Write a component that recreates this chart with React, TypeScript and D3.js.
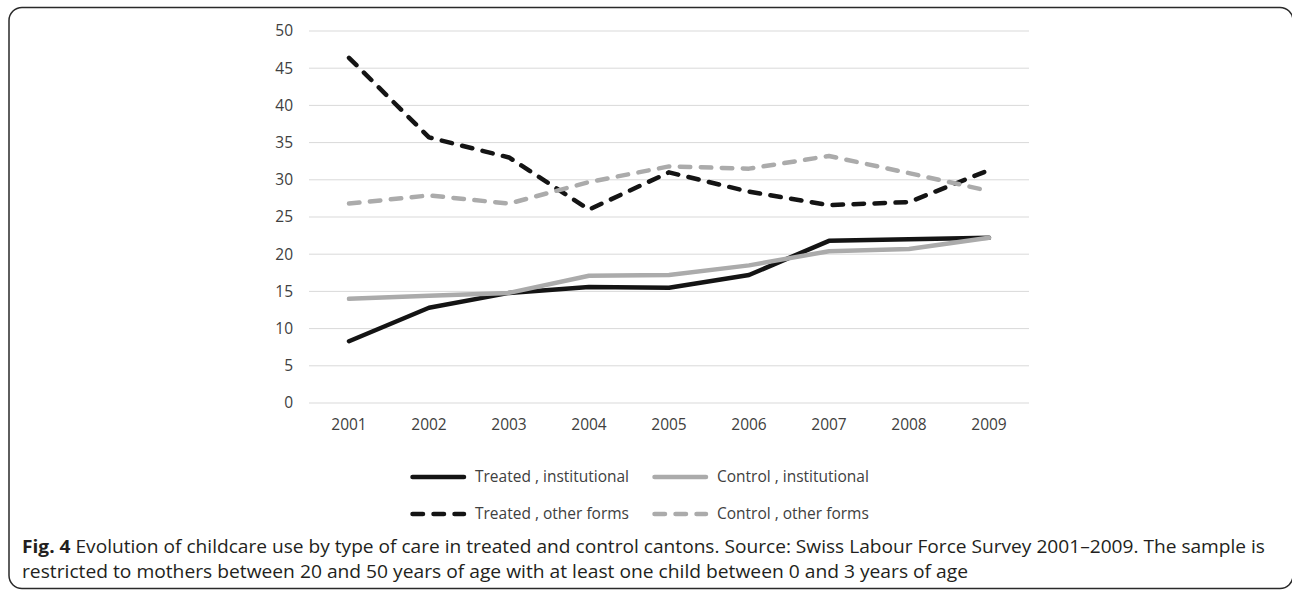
import React from "react";
import * as d3 from "d3";

const years = ["2001", "2002", "2003", "2004", "2005", "2006", "2007", "2008", "2009"];
const treatedInstitutional = [8.3, 12.8, 14.8, 15.6, 15.5, 17.2, 21.8, 22.0, 22.2];
const controlInstitutional = [14.0, 14.4, 14.8, 17.1, 17.2, 18.5, 20.4, 20.7, 22.2];
const treatedOther = [46.4, 35.7, 33.0, 26.0, 31.0, 28.4, 26.6, 27.0, 31.3];
const controlOther = [26.8, 27.9, 26.8, 29.7, 31.8, 31.5, 33.2, 30.9, 28.5];
const yTicks = [0, 5, 10, 15, 20, 25, 30, 35, 40, 45, 50];
const seriesNames = ["Treated , institutional", "Control , institutional", "Treated , other forms", "Control , other forms"];
const captionBold = "Fig. 4";
const captionLine1 = " Evolution of childcare use by type of care in treated and control cantons. Source: Swiss Labour Force Survey 2001\u20132009. The sample is";
const captionLine2 = "restricted to mothers between 20 and 50 years of age with at least one child between 0 and 3 years of age";

const BLACK = "#141414";
const GRAY = "#ababab";

export default function App() {
  const W = 1292, H = 590;
  const x = d3.scaleBand().domain(years).range([309, 1029]);
  const y = d3.scaleLinear().domain([0, 50]).range([403, 31]);
  const line = d3.line<number>()
    .x((_, i) => (x(years[i]) as number) + x.bandwidth() / 2)
    .y((d) => y(d));

  const DASH = "10.5,10.5";
  const series = [
    { data: treatedInstitutional, color: BLACK, dash: null },
    { data: controlInstitutional, color: GRAY, dash: null },
    { data: treatedOther, color: BLACK, dash: DASH },
    { data: controlOther, color: GRAY, dash: DASH },
  ];
  const order = [2, 3, 0, 1];
  const font = "'Open Sans', 'Noto Sans', sans-serif";
  const legendPos = [
    { lx: 410, ly: 477 },
    { lx: 652, ly: 477 },
    { lx: 410, ly: 514 },
    { lx: 652, ly: 514 },
  ];

  return (
    <svg width={W} height={H} style={{ position: "absolute", left: 0, top: 0, background: "#fff" }}>
      <rect x={9} y={7.5} width={1284} height={581} rx={13} ry={13} fill="none" stroke="#2a2a2a" strokeWidth={1.5} />
      {yTicks.map((t) => (
        <g key={t}>
          <line x1={309} x2={1029} y1={y(t)} y2={y(t)} stroke="#d9d9d9" strokeWidth={1} />
          <text x={293} y={y(t)} dy="0.35em" textAnchor="end" fontFamily={font} fontSize={15.5} fill="#404040">{t}</text>
        </g>
      ))}
      {years.map((yr) => (
        <text key={yr} x={(x(yr) as number) + x.bandwidth() / 2} y={425} dy="0.35em" textAnchor="middle" fontFamily={font} fontSize={15.5} fill="#404040">{yr}</text>
      ))}
      {order.map((i) => {
        const s = series[i];
        return (
          <path key={i} d={line(s.data) as string} fill="none" stroke={s.color} strokeWidth={4.5}
            strokeLinejoin="round" strokeLinecap="round"
            strokeDasharray={s.dash ?? undefined} />
        );
      })}
      {series.map((s, i) => {
        const p = legendPos[i];
        return (
          <g key={"lg" + i}>
            <line x1={p.lx + 2.5} x2={p.lx + 54} y1={p.ly} y2={p.ly} stroke={s.color} strokeWidth={4.5}
              strokeLinecap="round" strokeDasharray={s.dash ?? undefined} />
            <text x={p.lx + 65} y={p.ly} dy="0.35em" fontFamily={font} fontSize={15.5} fill="#404040">{seriesNames[i]}</text>
          </g>
        );
      })}
      <text x={22} y={547} dy="0.35em" fontFamily={font} fontSize={18} fill="#231f20" textLength={1243} lengthAdjust="spacingAndGlyphs">
        <tspan fontWeight="bold">{captionBold}</tspan>{captionLine1}
      </text>
      <text x={22} y={572} dy="0.35em" fontFamily={font} fontSize={18} fill="#231f20" textLength={946} lengthAdjust="spacingAndGlyphs">
        {captionLine2}
      </text>
    </svg>
  );
}
